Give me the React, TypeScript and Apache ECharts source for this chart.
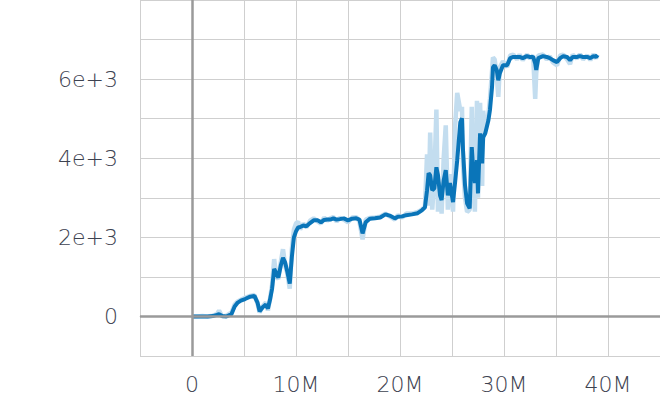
import React, { useEffect, useRef } from "react";
import * as echarts from "echarts";

// steps in millions
const steps = [
  0.0, 0.5, 1.0, 1.5, 2.0, 2.4, 2.6, 2.9, 3.3, 3.8, 4.1, 4.4, 4.7, 5.1, 5.6, 6.0, 6.3, 6.5, 6.8, 7.1,
  7.3, 7.5, 7.7, 7.9, 8.1, 8.3, 8.55, 8.75, 8.95, 9.15, 9.4, 9.6, 9.8, 10.0, 10.2, 10.4, 10.7, 11.0, 11.35, 11.7,
  12.1, 12.4, 12.7, 13.0, 13.3, 13.6, 13.9, 14.2, 14.6, 15.0, 15.4, 15.8, 16.1, 16.4, 16.7, 17.1, 17.6, 18.1, 18.6, 19.0,
  19.5, 19.8, 20.2, 20.6, 21.15, 21.7, 22.1, 22.4, 22.6, 22.75, 22.9, 23.1, 23.3, 23.5, 23.65, 23.85, 24.0, 24.2, 24.4, 24.6,
  24.8, 25.1, 25.3, 25.5, 25.8, 25.96, 26.06, 26.25, 26.45, 26.7, 26.9, 27.0, 27.2, 27.4, 27.5, 27.7, 27.9, 28.0, 28.2, 28.5,
  28.65, 28.85, 28.94, 29.1, 29.3, 29.45, 29.6, 29.9, 30.3, 30.6, 30.9, 31.25, 31.5, 31.8, 32.2, 32.5, 32.8, 33.0, 33.1, 33.3,
  33.75, 34.1, 34.4, 34.7, 35.1, 35.4, 35.7, 36.06, 36.35, 36.6, 37.0, 37.3, 37.6, 38.0, 38.3, 38.6, 38.85, 39.0,
];

const smoothed = [
  0, 0, 0, 0, 10, 40, 60, 10, 0, 60, 250, 350, 400, 440, 500, 520, 350, 130, 230, 300,
  200, 420, 700, 1200, 1100, 980, 1300, 1480, 1370, 1150, 830, 1500, 2000, 2150, 2250, 2260, 2300, 2280, 2360, 2430,
  2430, 2380, 2440, 2450, 2450, 2480, 2450, 2460, 2480, 2430, 2470, 2480, 2450, 2100, 2380, 2470, 2480, 2500, 2580, 2550,
  2480, 2520, 2530, 2560, 2580, 2610, 2680, 2760, 3190, 3620, 3570, 3190, 3240, 3770, 3570, 3060, 2940, 3440, 3700, 3060,
  3370, 2890, 3400, 3950, 4910, 5010, 4200, 3320, 2860, 2730, 4280, 3870, 3370, 3950, 3110, 4630, 3870, 4530, 4630, 4960,
  5220, 5800, 6300, 6350, 6230, 5970, 6150, 6350, 6350, 6530, 6560, 6560, 6560, 6530, 6580, 6560, 6560, 6400, 6230, 6530,
  6580, 6560, 6530, 6480, 6430, 6530, 6580, 6560, 6480, 6560, 6560, 6580, 6560, 6560, 6530, 6580, 6560, 6610,
];

const raw = [
  0, 0, 10, 0, 20, 60, 150, 0, 20, 100, 300, 380, 420, 470, 520, 540, 330, 100, 260, 350,
  150, 450, 800, 1450, 1000, 950, 1400, 1700, 1300, 1100, 700, 1700, 2200, 2350, 2400, 2200, 2350, 2250, 2420, 2480,
  2400, 2350, 2500, 2420, 2480, 2510, 2400, 2490, 2450, 2380, 2500, 2510, 2400, 1950, 2450, 2490, 2500, 2520, 2600, 2530,
  2450, 2560, 2500, 2600, 2600, 2640, 2700, 2780, 4100, 2800, 4650, 2700, 3500, 5230, 2650, 3400, 2600, 4000, 4830, 2700,
  3600, 2650, 4800, 5650, 5200, 5300, 3800, 3000, 2640, 2700, 5300, 3500, 2650, 5450, 3000, 5400, 3300, 5200, 4700, 5100,
  5500, 6200, 6550, 6500, 6100, 5550, 6300, 6450, 6300, 6600, 6620, 6500, 6620, 6480, 6620, 6520, 6600, 5500, 6150, 6600,
  6620, 6500, 6580, 6420, 6350, 6600, 6620, 6500, 6380, 6620, 6520, 6630, 6500, 6600, 6480, 6630, 6520, 6620,
];

const yTickLabels: Record<number, string> = { 0: "0", 2000: "2e+3", 4000: "4e+3", 6000: "6e+3" };
const xTickLabels: Record<number, string> = { 0: "0", 10000000: "10M", 20000000: "20M", 30000000: "30M", 40000000: "40M" };

export default function App() {
  const ref = useRef<HTMLDivElement>(null);
  useEffect(() => {
    if (!ref.current) return;
    const chart = echarts.init(ref.current, undefined, { renderer: "svg" });
    const rawData = steps.map((s, i) => [s * 1e6, raw[i]]);
    const smoothData = steps.map((s, i) => [s * 1e6, smoothed[i]]);
    const grey = "#cfcfcf";
    const labelStyle = {
      color: "#3d4250",
      fontFamily: "DejaVu Sans",
      fontWeight: 200 as any,
      fontSize: 22,
    };
    chart.setOption({
      animation: false,
      grid: { left: 140, right: 0, top: 0, bottom: 44, containLabel: false },
      xAxis: {
        type: "value",
        min: -5e6,
        max: 45e6,
        interval: 5e6,
        axisLine: { show: true, lineStyle: { color: grey, width: 1 } },
        axisTick: { show: true, length: 9, lineStyle: { color: grey, width: 1 } },
        splitLine: { show: true, lineStyle: { color: grey, width: 1 } },
        axisLabel: {
          ...labelStyle,
          margin: 17,
          showMinLabel: true,
          showMaxLabel: false,
          formatter: (v: number) => xTickLabels[Math.round(v)] ?? "",
        },
      },
      yAxis: {
        type: "value",
        min: -1000,
        max: 8000,
        interval: 1000,
        axisLine: { show: true, lineStyle: { color: grey, width: 1 } },
        axisTick: { show: true, length: 10, lineStyle: { color: grey, width: 1 } },
        splitLine: { show: true, lineStyle: { color: grey, width: 1 } },
        axisLabel: {
          ...labelStyle,
          margin: 22,
          formatter: (v: number) => yTickLabels[Math.round(v)] ?? "",
        },
      },
      series: [
        {
          type: "line",
          data: [],
          silent: true,
          z: 1,
          markLine: {
            silent: true,
            symbol: ["none", "none"],
            label: { show: false },
            lineStyle: { color: "#9a9a9a", width: 2.5, type: "solid" },
            data: [{ yAxis: 0 }, { xAxis: 0 }],
          },
        },
        {
          type: "line",
          data: rawData,
          showSymbol: false,
          symbol: "none",
          z: 2,
          lineStyle: { color: "#c3ddef", width: 4.5 },
        },
        {
          type: "line",
          data: smoothData,
          showSymbol: false,
          symbol: "none",
          z: 3,
          lineStyle: { color: "#0a75b9", width: 4 },
        },
      ],
    });
    return () => chart.dispose();
  }, []);
  return <div ref={ref} style={{ width: 660, height: 400, position: "absolute", left: 0, top: 0 }} />;
}
